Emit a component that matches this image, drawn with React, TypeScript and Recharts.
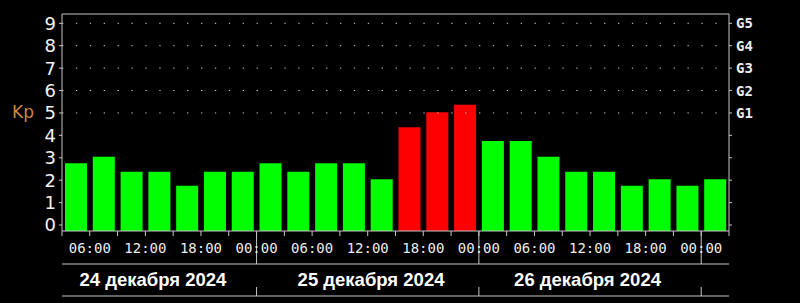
import { BarChart, Bar, XAxis, YAxis, ReferenceLine, ReferenceArea, Cell } from 'recharts'

// 3-hour Kp, 24 Dec 03:00 .. 27 Dec 03:00 (first day starts at 03:00)
const slots = [
  '24 03', '24 06', '24 09', '24 12', '24 15', '24 18', '24 21',
  '25 00', '25 03', '25 06', '25 09', '25 12', '25 15', '25 18', '25 21',
  '26 00', '26 03', '26 06', '26 09', '26 12', '26 15', '26 18', '26 21',
  '27 00'
]
const kpValues = [
  2.75, 3.05, 2.38, 2.38, 1.75, 2.38, 2.38,
  2.75, 2.38, 2.75, 2.75, 2.04, 4.36, 5.03, 5.36,
  3.75, 3.75, 3.05, 2.38, 2.38, 1.75, 2.04, 1.75,
  2.04
]
const timeLabels = [
  '06:00', '12:00', '18:00', '00:00',
  '06:00', '12:00', '18:00', '00:00',
  '06:00', '12:00', '18:00', '00:00'
]
const dayLabels = ['24 декабря 2024', '25 декабря 2024', '26 декабря 2024']
const dayLabelPos = [3.27, 11.12, 18.91]
const daySeparators = [7, 15, 23]
const kpTicks = [0, 1, 2, 3, 4, 5, 6, 7, 8, 9]
const gLevels = [5, 6, 7, 8, 9]
const gLabels = ['G1', 'G2', 'G3', 'G4', 'G5']

const BASE = -0.268
const TOP = 9.415
const STORM = 4

const GREEN = '#00ff00'
const RED = '#ff0000'
const LINE = '#c4c4c4'
const TEXT = '#ececec'

// slot i covers [i, i+1] on the time axis (1 unit = 3 hours)
const data = slots.map((slot, i) => ({ slot, t: i + 0.5, kp: kpValues[i] }))
const slotTicks = Array.from({ length: slots.length + 1 }, (_, i) => i)
const bottomTicks = [...slotTicks, ...dayLabelPos]

const BottomTick = ({ x, y, payload }: any) => {
  const v = payload.value
  const d = dayLabelPos.indexOf(v)
  if (d >= 0) {
    return (
      <text x={x} y={y + 54.5} textAnchor="middle" fill="#ffffff" fontSize={18.5}
        fontWeight="bold" fontFamily="'Liberation Sans', Arial, sans-serif">
        {dayLabels[d]}
      </text>
    )
  }
  return (
    <g>
      <line x1={x} y1={y} x2={x} y2={y + 5} stroke={LINE} />
      {v % 2 === 1 && (
        <text x={x} y={y + 17} textAnchor="middle" dominantBaseline="central"
          fill={TEXT} fontSize={14} fontFamily="'DejaVu Sans Mono', monospace">
          {timeLabels[(v - 1) / 2]}
        </text>
      )}
    </g>
  )
}

const GTick = ({ x, y, payload }: any) => {
  const i = gLevels.indexOf(payload.value)
  if (i < 0) return null
  return (
    <text x={x} y={y} textAnchor="start" dominantBaseline="central" fill={TEXT}
      fontSize={14} fontWeight="bold" fontFamily="'DejaVu Sans Mono', monospace">
      {gLabels[i]}
    </text>
  )
}

const Separator = ({ x1, y1 }: any) => (
  <g stroke={LINE} strokeWidth={1}>
    <line x1={x1} y1={y1} x2={x1} y2={264} />
    <line x1={x1} y1={287} x2={x1} y2={296} />
  </g>
)

// frame top edge plus the two rules around the date row
const Frame = ({ x, y, width }: any) => (
  <g stroke={LINE} strokeWidth={1} fill="none">
    <line x1={x} y1={y} x2={x + width} y2={y} />
    <line x1={x} y1={264} x2={x + width} y2={264} />
    <line x1={x} y1={296} x2={x + width} y2={296} />
  </g>
)

export default function App() {
  return (
    <div style={{ position: 'absolute', left: 0, top: 0, width: 800, height: 303, background: '#000' }}>
      <BarChart
        width={800}
        height={303}
        data={data}
        margin={{ top: 14, right: 0, bottom: 0, left: 0 }}
      >
        <XAxis
          xAxisId="t"
          dataKey="t"
          type="number"
          domain={[0, 24]}
          allowDataOverflow
          ticks={bottomTicks}
          interval={0}
          height={72}
          stroke={LINE}
          tickLine={false}
          tickSize={0}
          tickMargin={0}
          tick={<BottomTick />}
        />
        <YAxis
          yAxisId="kp"
          type="number"
          domain={[BASE, TOP]}
          allowDataOverflow
          ticks={kpTicks}
          interval={0}
          width={62}
          stroke={LINE}
          tickSize={3}
          tickMargin={3}
          tick={{ fill: '#f2f2f2', fontSize: 18, fontFamily: "'DejaVu Sans', sans-serif" }}
          label={{
            content: () => (
              <text x={12} y={118} fill="#cc8844" fontSize={17}
                fontFamily="'DejaVu Sans', sans-serif">Kp</text>
            )
          }}
        />
        <YAxis
          yAxisId="g"
          orientation="right"
          type="number"
          domain={[BASE, TOP]}
          allowDataOverflow
          ticks={kpTicks}
          interval={0}
          width={71}
          stroke={LINE}
          tickSize={3}
          tickMargin={4}
          tick={<GTick />}
        />
        <ReferenceArea
          xAxisId="t"
          yAxisId="kp"
          x1={0}
          x2={24}
          ifOverflow="visible"
          shape={<Frame />}
        />
        {gLevels.map((lvl) => (
          <ReferenceLine
            key={`grid-${lvl}`}
            xAxisId="t"
            yAxisId="kp"
            y={lvl}
            stroke="#cfcfcf"
            strokeWidth={1}
            strokeDasharray="1.3 12.6"
          />
        ))}
        <Bar
          xAxisId="t"
          yAxisId="kp"
          dataKey={(d: any) => [BASE, d.kp]}
          barSize={22}
          isAnimationActive={false}
        >
          {data.map((d, i) => (
            <Cell key={`c-${i}`} fill={d.kp >= STORM ? RED : GREEN} />
          ))}
        </Bar>
        {daySeparators.map((s) => (
          <ReferenceLine
            key={`sep-${s}`}
            xAxisId="t"
            yAxisId="kp"
            x={s}
            ifOverflow="visible"
            shape={<Separator />}
          />
        ))}
      </BarChart>
    </div>
  )
}
